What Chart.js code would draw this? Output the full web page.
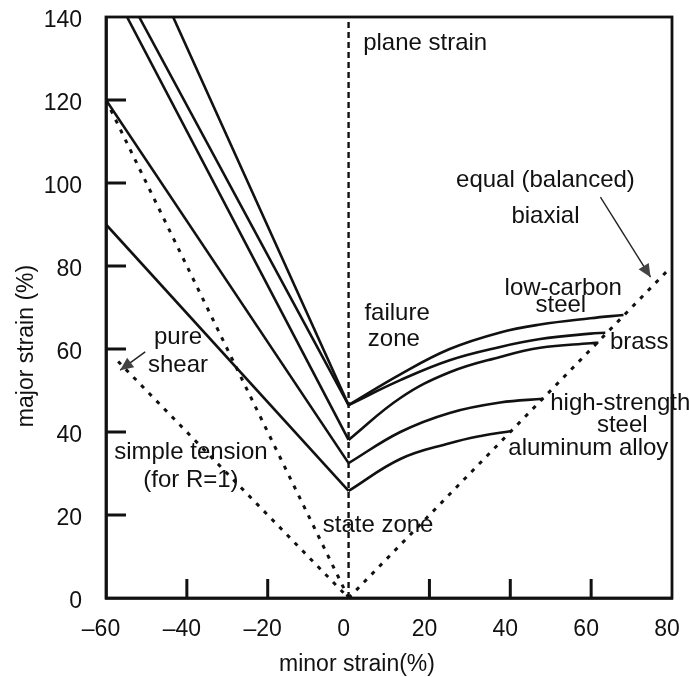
<!DOCTYPE html>
<html>
<head>
<meta charset="utf-8">
<script src="https://cdn.jsdelivr.net/npm/chart.js@4"></script>
<style>
  html, body { margin: 0; padding: 0; background: #fff; }
  #wrap { width: 689px; height: 677px; }
</style>
</head>
<body>
<div id="wrap"><canvas id="fld"></canvas></div>
<script>
// forming limit curves: straight left branch + curved right branch
const lowCarbonLeft  = [[-43.4, 140], [0, 46.5]];
const lowCarbonRight = [[0, 46.5], [12.8, 53.9], [25, 60], [37.5, 64], [47.4, 65.9], [59.8, 67.4], [68, 68.2]];
const brassUpperLeft  = [[-51.8, 140], [0, 46.5]];
const brassUpperRight = [[0, 46.5], [12.8, 52.5], [25, 57.3], [37.5, 60.5], [47.4, 62.4], [59.8, 63.7], [63.5, 63.9]];
const brassLowerLeft  = [[-54.8, 140], [0, 38.1]];
const brassLowerRight = [[0, 38.1], [12.8, 48.2], [25, 54.4], [37.5, 58.1], [47.4, 60.3], [59.8, 61.4], [61.8, 61.5]];
const highStrengthLeft  = [[-60, 120], [0, 32.5]];
const highStrengthRight = [[0, 32.5], [12.8, 40], [25, 44.6], [37.5, 47.1], [48.2, 48]];
const aluminumLeft  = [[-60, 90], [0, 25.8]];
const aluminumRight = [[0, 25.8], [12.8, 33.5], [25, 37.3], [33, 39.1], [40, 40.2]];

// strain paths (dotted)
const planeStrain   = [[0, 0], [0, 140]];
const simpleTension = [[-60, 120], [0, 0]];
const pureShear     = [[-57, 57], [0, 0]];
const equalBiaxial  = [[0, 0], [79.5, 79.5]];

const xTicks = [-60, -40, -20, 0, 20, 40, 60, 80];
const yTicks = [0, 20, 40, 60, 80, 100, 120, 140];

// annotation arrows, [from, to] in data units
const biaxialArrow = [[62.3, 96.6], [74.7, 77.3]];
const shearArrow = [[-50.3, 59.3], [-56.5, 54.9]];

// text notes placed in data units
const notes = [
  ['plane strain', 3.6, 133.7, 'left'],
  ['equal (balanced)', 48.7, 100.7, 'center'],
  ['biaxial', 48.7, 92, 'center'],
  ['low-carbon', 53.1, 74.7, 'center'],
  ['steel', 52.5, 70.6, 'center'],
  ['failure', 12, 68.7, 'center'],
  ['zone', 11.2, 62.2, 'center'],
  ['brass', 71.9, 61.7, 'center'],
  ['high-strength', 67.2, 47, 'center'],
  ['steel', 67.7, 41.5, 'center'],
  ['aluminum alloy', 59.3, 36.1, 'center'],
  ['state zone', 7.3, 17.6, 'center'],
  ['pure', -42.2, 62.7, 'center'],
  ['shear', -42.2, 56.1, 'center'],
  ['simple tension', -39, 35.2, 'center'],
  ['(for R=1)', -39, 28.4, 'center']
];

const INK = '#111';
const FONT = '"Liberation Sans", Arial, sans-serif';
const toXY = pts => pts.map(([x, y]) => ({ x, y }));

function solid(pts, curved) {
  return {
    data: toXY(pts), borderColor: INK, borderWidth: 2.6, pointRadius: 0,
    showLine: true, fill: false, tension: curved ? 0.4 : 0
  };
}
function dotted(pts, dash, width) {
  return {
    data: toXY(pts), borderColor: INK, borderWidth: width, pointRadius: 0,
    showLine: true, fill: false, borderDash: dash, tension: 0
  };
}

function arrow(ctx, x1, y1, x2, y2) {
  ctx.save();
  ctx.strokeStyle = '#222';
  ctx.fillStyle = '#444';
  ctx.lineWidth = 1.4;
  ctx.beginPath();
  ctx.moveTo(x1, y1);
  ctx.lineTo(x2, y2);
  ctx.stroke();
  const a = Math.atan2(y2 - y1, x2 - x1);
  const L = 13, W = 6;
  ctx.beginPath();
  ctx.moveTo(x2, y2);
  ctx.lineTo(x2 - L * Math.cos(a) + W * Math.sin(a), y2 - L * Math.sin(a) - W * Math.cos(a));
  ctx.lineTo(x2 - L * Math.cos(a) - W * Math.sin(a), y2 - L * Math.sin(a) + W * Math.cos(a));
  ctx.closePath();
  ctx.fill();
  ctx.restore();
}

const decor = {
  id: 'decor',
  afterDatasetsDraw(chart) {
    const { ctx, chartArea: a, scales: { x, y } } = chart;
    ctx.save();
    // frame
    ctx.strokeStyle = INK;
    ctx.lineWidth = 2.8;
    ctx.strokeRect(a.left, a.top, a.right - a.left, a.bottom - a.top);
    // inward tick marks
    ctx.lineWidth = 3;
    ctx.beginPath();
    yTicks.filter(v => v > 0 && v < 140).forEach(v => {
      const py = y.getPixelForValue(v);
      ctx.moveTo(a.left, py);
      ctx.lineTo(a.left + 20, py);
    });
    xTicks.filter(v => v > -60 && v < 80 && v !== 0).forEach(v => {
      const px = x.getPixelForValue(v);
      ctx.moveTo(px, a.bottom);
      ctx.lineTo(px, a.bottom - 19);
    });
    ctx.stroke();

    // notes
    ctx.fillStyle = INK;
    ctx.font = '24px ' + FONT;
    ctx.textBaseline = 'middle';
    notes.forEach(([t, vx, vy, al]) => {
      ctx.textAlign = al;
      ctx.fillText(t, x.getPixelForValue(vx), y.getPixelForValue(vy));
    });

    // arrows
    [biaxialArrow, shearArrow].forEach(([p, q]) => {
      arrow(ctx, x.getPixelForValue(p[0]), y.getPixelForValue(p[1]),
                 x.getPixelForValue(q[0]), y.getPixelForValue(q[1]));
    });

    // axis titles
    ctx.font = '23px ' + FONT;
    ctx.textAlign = 'center';
    ctx.fillText('minor strain(%)', 357, 665);
    ctx.translate(27, 346);
    ctx.rotate(-Math.PI / 2);
    ctx.fillText('major strain (%)', 0, 0);
    ctx.restore();
  }
};

new Chart(document.getElementById('fld'), {
  type: 'scatter',
  data: {
    datasets: [
      dotted(planeStrain, [6, 4], 2.4),
      dotted(simpleTension, [4, 7], 3),
      dotted(pureShear, [4, 7], 3),
      dotted(equalBiaxial, [4, 7], 3),
      solid(lowCarbonLeft), solid(lowCarbonRight, true),
      solid(brassUpperLeft), solid(brassUpperRight, true),
      solid(brassLowerLeft), solid(brassLowerRight, true),
      solid(highStrengthLeft), solid(highStrengthRight, true),
      solid(aluminumLeft), solid(aluminumRight, true)
    ]
  },
  options: {
    responsive: true,
    maintainAspectRatio: false,
    animation: false,
    layout: { padding: { top: 17, right: 17, left: 0, bottom: 0 } },
    plugins: { legend: { display: false }, tooltip: { enabled: false } },
    scales: {
      x: {
        type: 'linear', min: -60, max: 80,
        afterBuildTicks: s => { s.ticks = xTicks.map(v => ({ value: v })); },
        afterFit: s => { s.height = 79; s.paddingLeft = 0; s.paddingRight = 0; },
        grid: { display: false, drawTicks: false },
        border: { display: true, color: INK, width: 2.8 },
        ticks: {
          autoSkip: false, maxRotation: 0, padding: 18, labelOffset: -5, color: INK,
          font: { family: FONT, size: 23 },
          callback: v => (v < 0 ? '\u2013' + Math.abs(v) : String(v))
        }
      },
      y: {
        type: 'linear', min: 0, max: 140,
        afterBuildTicks: s => { s.ticks = yTicks.map(v => ({ value: v })); },
        afterFit: s => { s.width = 106; s.paddingTop = 0; s.paddingBottom = 0; },
        grid: { display: false, drawTicks: false },
        border: { display: true, color: INK, width: 2.8 },
        ticks: {
          autoSkip: false, padding: 24, labelOffset: 4, color: INK,
          font: { family: FONT, size: 23 }
        }
      }
    }
  },
  plugins: [decor]
});
</script>
</body>
</html>
